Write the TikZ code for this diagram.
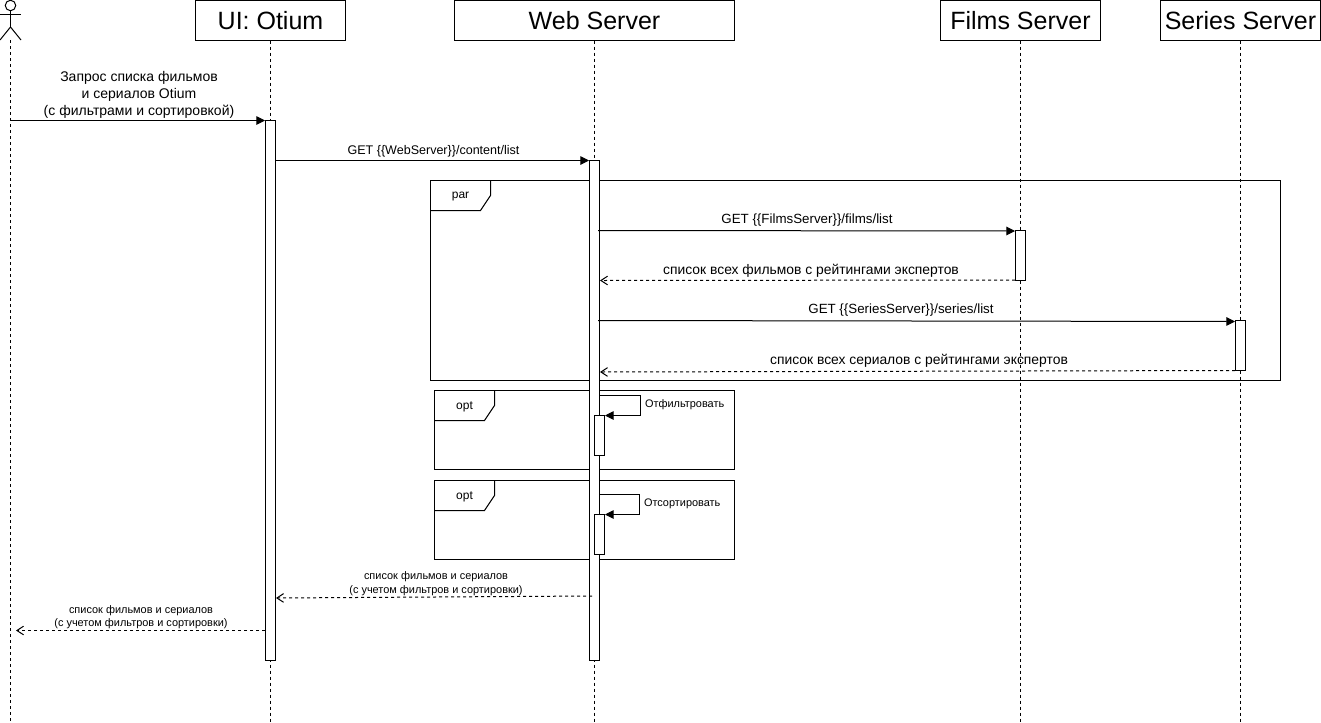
\documentclass[tikz,border=0pt]{standalone}
\usepackage{fontspec}
\setmainfont{Liberation Sans}
\usetikzlibrary{arrows.meta}
\tikzset{
  x=0.75pt,y=-0.75pt,
  every node/.style={inner sep=0pt,outer sep=0pt},
  base/.style={line width=0.75pt,black},
  head/.style={draw,base,fill=white,minimum height=30pt,font=\fontsize{18.75}{22}\selectfont},
  act/.style={draw,base,fill=white,minimum width=7.5pt},
  life/.style={base,dash pattern=on 2.25pt off 2.25pt},
  msg/.style={base,-{Triangle[length=6.5pt,width=6.5pt]}},
  ret/.style={base,dash pattern=on 2.25pt off 2.25pt,-{Straight Barb[length=5pt,width=6.5pt]}},
  lab/.style={align=center,font=\fontsize{9}{12.4}\selectfont},
  labb/.style={align=center,font=\fontsize{10.5}{12.75}\selectfont},
  labw/.style={align=center,font=\fontsize{9.4}{12}\selectfont},
  labf/.style={align=center,font=\fontsize{10}{12}\selectfont},
  labm/.style={align=center,font=\fontsize{10.4}{12}\selectfont},
  labs/.style={align=center,font=\fontsize{8.2}{10.1}\selectfont},
  frame/.style={base,line join=miter},
}
\begin{document}
\begin{tikzpicture}
\useasboundingbox (0,0) rectangle (1321,722);
% lifeline ends
\coordinate (a0) at (10.5,40);   \coordinate (a1) at (10.5,722);
\coordinate (b1) at (270.5,722);
\coordinate (c1) at (594.5,722);
\coordinate (d1) at (1020.5,722);
\coordinate (e1) at (1240.5,722);
% headers
\node[head,minimum width=112.5pt] (ui) at (270.5,20.5) {\raisebox{-0.75pt}{UI: Otium}};
\node[head,minimum width=210pt] (web) at (594.5,20.5) {\raisebox{-0.75pt}{Web Server}};
\node[head,minimum width=120pt] (films) at (1020.5,20.5) {\raisebox{-0.75pt}{Films Server}};
\node[head,minimum width=120pt] (series) at (1240.5,20.5) {\raisebox{-0.75pt}{Series Server}};
% lifelines
\draw[life] (a0) -- (a1);
\draw[life] (ui.south) -- (b1);
\draw[life] (web.south) -- (c1);
\draw[life] (films.south) -- (d1);
\draw[life] (series.south) -- (e1);
% actor
\draw[base] (10.5,5.5) circle[radius=5.25];
\draw[base] (0,14) -- (21,14);
\draw[base] (10.5,10.5) -- (10.5,27);
\draw[base] (0,40) -- (10.5,27) -- (21,40);
% frames
\draw[frame] (430.5,180.5) rectangle (1280.5,380.5);
\draw[frame] (430.5,210.5) -- (480.5,210.5) -- (490.5,195.5) -- (490.5,180.5);
\node[lab] (parl) at (460.5,196.5) {par};
\draw[frame] (434.5,390.5) rectangle (734.5,469.5);
\draw[frame] (434.5,420.5) -- (484.5,420.5) -- (494.5,405.5) -- (494.5,390.5);
\node[lab] (opt1) at (464.5,407) {opt};
\draw[frame] (434.5,480.5) rectangle (734.5,559.5);
\draw[frame] (434.5,510.5) -- (484.5,510.5) -- (494.5,495.5) -- (494.5,480.5);
\node[lab] (opt2) at (464.5,497) {opt};
% activations
\node[act,minimum height=405pt] (uia) at (270.5,390.5) {};
\node[act,minimum height=375pt] (weba) at (594.5,410.5) {};
\node[act,minimum height=37.5pt] (filmsa) at (1020.5,255.5) {};
\node[act,minimum height=37.5pt] (seriesa) at (1240.5,345.5) {};
\node[act,minimum height=30pt] (self1) at (599.5,435) {};
\node[act,minimum height=30pt] (self2) at (599.5,534.5) {};
% free ends
\coordinate (actorout) at (10.5,120.5);
\coordinate (actorin) at (16,630.5);
\coordinate (uiin) at (265,120.5);
\coordinate (uiout) at (275,160.5);
\coordinate (webin) at (589,160.5);
\coordinate (webf) at (598,230.5);
\coordinate (filmsin) at (1015,231);
\coordinate (filmsout) at (1015,280);
\coordinate (webfb) at (600,280.5);
\coordinate (webs) at (598,320.5);
\coordinate (seriesin) at (1235,321.5);
\coordinate (seriesout) at (1235,370.5);
\coordinate (websb) at (600,372);
\coordinate (webout) at (592,596);
\coordinate (uibk) at (276,598);
\coordinate (uiout2) at (265,630.5);
% messages
\draw[msg] (actorout) -- (uiin);
\draw[msg] (uiout) -- (webin);
\draw[msg] (webf) -- (filmsin);
\draw[ret] (filmsout) -- (webfb);
\draw[msg] (webs) -- (seriesin);
\draw[ret] (seriesout) -- (websb);
\draw[msg] (599.5,395.5) -- (640.5,395.5) -- (640.5,415.5) -- (605,415.5);
\draw[msg] (599.5,494.5) -- (639.5,494.5) -- (639.5,514.5) -- (605,514.5);
\draw[ret] (webout) -- (uibk);
\draw[ret] (uiout2) -- (actorin);
% labels
\node[labb] (l1) at (139,94.5) {Запрос списка фильмов\\и сериалов Otium\\(с фильтрами и сортировкой)};
\node[labw] (l2) at (433.5,151) {GET \{\{WebServer\}\}/content/list};
\node[labf] (l3) at (807,220) {GET \{\{FilmsServer\}\}/films/list};
\node[labm] (l4) at (811,270.5) {список всех фильмов с рейтингами экспертов};
\node[labf] (l5) at (901,310.5) {GET \{\{SeriesServer\}\}/series/list};
\node[labm] (l6) at (919,361) {список всех сериалов с рейтингами экспертов};
\node[labs,anchor=west] (l7) at (645,404.5) {Отфильтровать};
\node[labs,anchor=west] (l8) at (644,503.5) {Отсортировать};
\node[labs] (l9) at (436,583.5) {список фильмов и сериалов\\(с учетом фильтров и сортировки)};
\node[labs] (l10) at (141,617) {список фильмов и сериалов\\(с учетом фильтров и сортировки)};
\end{tikzpicture}
\end{document}
